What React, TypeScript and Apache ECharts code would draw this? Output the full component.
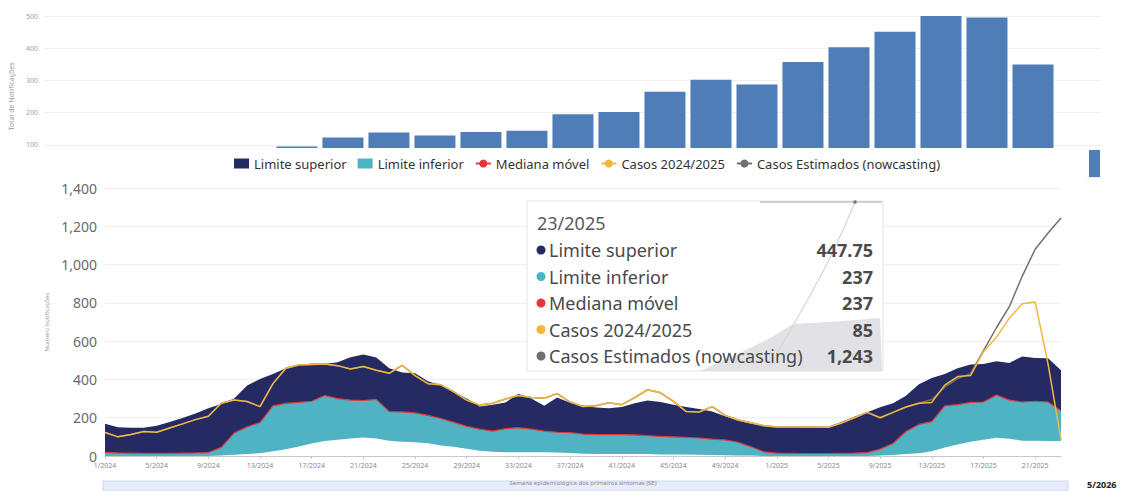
import React, { useEffect, useRef } from "react";
import * as echarts from "echarts";

// ---------- top bar chart (cropped) ----------
const barSlots = ["s1","s2","s3","s4","s5","s6","s7","s8","s9","s10","s11","s12","s13","s14","s15","s16","s17","s18","s19","s20","s21","s22","s23"];
const barValues: (number | null)[] = [null, null, null, null, null, 95, 123, 138, 129, 140, 144, 195, 202, 265, 302, 287, 357, 403, 451, 503, 495, 349, null];
const barTicks = [0, 100, 200, 300, 400, 500];

// ---------- main chart ----------
const weekLabels: string[] = [];
for (let w = 1; w <= 52; w++) weekLabels.push(`${w}/2024`);
for (let w = 1; w <= 23; w++) weekLabels.push(`${w}/2025`);

const limiteSuperior = [
  169, 150, 148, 148, 158, 178, 198, 222, 250, 272,
  300, 368, 402, 428, 458, 476, 482, 480, 490, 516,
  530, 515, 458, 436, 432, 390, 370, 335, 300, 258,
  268, 280, 325, 300, 262, 305, 278, 262, 254, 250,
  256, 275, 290, 282, 268, 256, 245, 232, 208, 185,
  168, 158, 150, 152, 148, 148, 152, 178, 205, 228,
  255, 275, 315, 375, 408, 428, 458, 478, 480, 495,
  486, 520, 512, 510, 447.75,
];
const limiteInferior = [
  18, 16, 15, 14, 14, 14, 15, 16, 18, 45,
  120, 152, 175, 262, 275, 280, 286, 316, 300, 292,
  290, 296, 232, 230, 225, 212, 196, 176, 155, 140,
  130, 143, 148, 140, 130, 124, 122, 114, 112, 112,
  112, 110, 106, 102, 100, 97, 94, 88, 84, 72,
  48, 22, 15, 14, 13, 13, 13, 14, 15, 18,
  36, 65, 128, 165, 180, 262, 268, 280, 282, 318,
  292, 282, 286, 282, 237,
];
const medianaMovel = [
  18, 16, 15, 14, 14, 14, 15, 16, 18, 45,
  120, 152, 175, 262, 275, 280, 286, 316, 300, 292,
  290, 296, 232, 230, 225, 212, 196, 176, 155, 140,
  130, 143, 148, 140, 130, 124, 122, 114, 112, 112,
  112, 110, 106, 102, 100, 97, 94, 88, 84, 72,
  48, 22, 15, 14, 13, 13, 13, 14, 15, 18,
  36, 65, 128, 165, 180, 262, 268, 280, 282, 318,
  292, 282, 286, 282, 237,
];
const baseArea = [
  0, 0, 0, 0, 0, 0, 0, 0, 0, 3,
  6, 10, 15, 25, 35, 50, 65, 78, 85, 92,
  97, 92, 80, 75, 72, 66, 55, 48, 38, 28,
  22, 20, 20, 20, 20, 18, 16, 12, 10, 10,
  10, 10, 10, 8, 8, 8, 6, 5, 4, 3,
  2, 0, 0, 0, 0, 0, 0, 0, 0, 0,
  2, 5, 10, 15, 25, 45, 60, 75, 85, 95,
  90, 80, 80, 78, 78,
];
const casos = [
  123, 100, 112, 128, 124, 146, 168, 190, 208, 276,
  292, 285, 258, 378, 458, 475, 478, 480, 472, 455,
  468, 448, 432, 474, 420, 378, 372, 335, 292, 266,
  276, 298, 316, 306, 302, 326, 282, 258, 262, 278,
  268, 305, 346, 330, 285, 232, 230, 258, 212, 188,
  174, 158, 152, 152, 152, 152, 150, 172, 200, 228,
  200, 228, 256, 276, 280, 370, 415, 420, 545, 620,
  720, 795, 805, 480, 85,
];
const nowcasting = [
  123, 100, 112, 128, 124, 146, 168, 190, 208, 276,
  292, 285, 258, 378, 458, 475, 478, 480, 472, 455,
  468, 448, 432, 474, 420, 378, 372, 335, 292, 266,
  276, 298, 316, 306, 302, 326, 282, 258, 262, 278,
  268, 305, 346, 330, 285, 232, 230, 258, 212, 188,
  174, 158, 152, 152, 152, 152, 150, 172, 200, 228,
  200, 228, 256, 276, 295, 360, 405, 430, 550, 670,
  780, 940, 1080, 1165, 1243,
];
const mainTicks = [0, 200, 400, 600, 800, 1000, 1200, 1400];

const NAVY = "#262a62";
const TEAL = "#4fb3c3";
const RED = "#e2383c";
const YELLOW = "#f1b73f";
const GRAY = "#707070";
const BAR = "#4f7db7";
const FONT = "'Noto Sans', 'DejaVu Sans', sans-serif";

export default function App() {
  const ref = useRef<HTMLDivElement>(null);
  useEffect(() => {
    const el = ref.current;
    if (!el) return;
    const chart = echarts.init(el, null, { renderer: "svg" });
    const last = weekLabels.length - 1;
    const fmt = (v: number) => v.toLocaleString("en-US", { maximumFractionDigits: 2 });
    const rows = [
      { name: "Limite superior", color: NAVY, value: limiteSuperior[last] },
      { name: "Limite inferior", color: TEAL, value: limiteInferior[last] },
      { name: "Mediana móvel", color: RED, value: medianaMovel[last] },
      { name: "Casos 2024/2025", color: YELLOW, value: casos[last] },
      { name: "Casos Estimados (nowcasting)", color: GRAY, value: nowcasting[last] },
    ];
    const tipX = 527, tipY = 201, tipW = 356, tipH = 170;
    const tipChildren: any[] = [
      { type: "rect", shape: { x: tipX, y: tipY, width: tipW, height: tipH }, style: { fill: "rgba(255,255,255,0.94)", stroke: "#e4e4e4", lineWidth: 1 }, z: 10 },
      { type: "polygon", shape: { points: [[700, 371], [740, 353], [770, 338], [793, 324], [830, 322], [880, 318], [882, 371]] }, style: { fill: "rgba(214,214,220,0.7)" }, z: 11 },
      { type: "line", shape: { x1: 760, y1: 202, x2: 882, y2: 202 }, style: { stroke: "#a8a8a8", lineWidth: 1 }, z: 11 },
      { type: "polyline", shape: { points: [[778, 352], [795, 322], [812, 292], [828, 262], [843, 230], [855, 202]] }, style: { stroke: "#d6d6d6", lineWidth: 1.2, fill: null }, z: 11 },
      { type: "circle", shape: { cx: 855, cy: 202, r: 1.8 }, style: { fill: "#777" }, z: 11 },
      { type: "text", x: tipX + 10, y: tipY + 22, style: { text: weekLabels[last], fontSize: 18, fontFamily: FONT, fill: "#5a5a5a", verticalAlign: "middle" }, z: 12 },
    ];
    rows.forEach((r, k) => {
      const cy = tipY + 49 + k * 26.5;
      tipChildren.push(
        { type: "circle", shape: { cx: tipX + 14, cy, r: 4.5 }, style: { fill: r.color }, z: 12 },
        { type: "text", x: tipX + 22, y: cy, style: { text: r.name, fontSize: 18, fontFamily: FONT, fill: "#4a4a4a", verticalAlign: "middle" }, z: 12 },
        { type: "text", x: tipX + tipW - 10, y: cy, style: { text: fmt(r.value), fontSize: 18, fontWeight: "bold", fontFamily: FONT, fill: "#4a4a4a", align: "right", verticalAlign: "middle" }, z: 12 },
      );
    });

    const areaSeries = (name: string, data: number[], color: string) => ({
      name, type: "line", xAxisIndex: 1, yAxisIndex: 1, data, color,
      symbol: "none", lineStyle: { width: 0, color }, areaStyle: { color, opacity: 1 },
      silent: true,
    });
    const lineSeries = (name: string, data: number[], color: string, width: number) => ({
      name, type: "line", xAxisIndex: 1, yAxisIndex: 1, data, color,
      symbol: "circle", symbolSize: 6, showSymbol: false, lineStyle: { width, color }, itemStyle: { color },
      silent: true,
    });

    chart.setOption({
      animation: false,
      backgroundColor: "#ffffff",
      textStyle: { fontFamily: FONT },
      grid: [
        { left: 42, top: 16, width: 1060, height: 161 },
        { left: 105, top: 188, width: 956, height: 274 },
      ],
      legend: {
        top: 152, left: 229, itemWidth: 15, itemHeight: 10, itemGap: 11,
        textStyle: { fontSize: 13, color: "#333", fontFamily: FONT },
        data: [
          { name: "Limite superior", icon: "rect" },
          { name: "Limite inferior", icon: "rect" },
          { name: "Mediana móvel" },
          { name: "Casos 2024/2025" },
          { name: "Casos Estimados (nowcasting)" },
        ],
        selectedMode: false,
      },
      xAxis: [
        { type: "category", gridIndex: 0, data: barSlots, axisLine: { show: false }, axisTick: { show: false }, axisLabel: { show: false } },
        {
          type: "category", gridIndex: 1, data: weekLabels, boundaryGap: false,
          axisLine: { lineStyle: { color: "#c8c8c8" } },
          axisTick: { show: true, interval: 3, length: 3, lineStyle: { color: "#c8c8c8" } },
          axisLabel: { interval: 3, fontSize: 7, color: "#8a8a8a", margin: 6 },
          name: "Semana epidemiológica dos primeiros sintomas (SE)", nameLocation: "middle", nameGap: 24,
          nameTextStyle: { fontSize: 6, color: "#8a8a8a" },
        },
      ],
      yAxis: [
        {
          type: "value", gridIndex: 0, min: barTicks[0], max: barTicks[barTicks.length - 1], interval: 100,
          axisLine: { show: false }, axisTick: { show: false },
          axisLabel: { fontSize: 7, color: "#a0a0a0", margin: 6 },
          splitLine: { lineStyle: { color: "#f0f0f0" } },
          name: "Total de Notificações", nameLocation: "middle", nameGap: 24,
          nameTextStyle: { fontSize: 7, color: "#999" },
        },
        {
          type: "value", gridIndex: 1, min: mainTicks[0], max: mainTicks[mainTicks.length - 1], interval: 200,
          axisLine: { show: false }, axisTick: { show: false },
          axisLabel: { fontSize: 14, color: "#6a6a6a", margin: 8, formatter: (v: number) => v.toLocaleString("en-US") },
          splitLine: { lineStyle: { color: "#efefef" } },
          name: "Número notificações", nameLocation: "middle", nameGap: 45,
          nameTextStyle: { fontSize: 6, color: "#9a9a9a" },
        },
      ],
      series: [
        { type: "bar", xAxisIndex: 0, yAxisIndex: 0, data: barValues, barWidth: 41, itemStyle: { color: BAR }, silent: true },
        areaSeries("Limite superior", limiteSuperior, NAVY),
        areaSeries("Limite inferior", limiteInferior, TEAL),
        areaSeries("base", baseArea, "#ffffff"),
        lineSeries("Mediana móvel", medianaMovel, RED, 1.2),
        lineSeries("Casos Estimados (nowcasting)", nowcasting, GRAY, 1.5),
        lineSeries("Casos 2024/2025", casos, YELLOW, 1.5),
      ],
      graphic: [
        { type: "rect", shape: { x: 30, y: 148, width: 1056, height: 34 }, style: { fill: "#ffffff" }, z: 3, silent: true },
        { type: "rect", shape: { x: 1089, y: 150, width: 11, height: 27 }, style: { fill: BAR }, z: 3, silent: true },
        { type: "rect", shape: { x: 103, y: 481, width: 965, height: 10 }, style: { fill: "#e6ecf8", stroke: "#cdd8ee", lineWidth: 1 }, z: -1, silent: true },
        { type: "text", x: 1087, y: 484, style: { text: "5/2026", fontSize: 9, fontWeight: "bold", fontFamily: FONT, fill: "#222", verticalAlign: "middle" }, z: 5 },
        { type: "group", children: tipChildren, z: 10 },
      ],
    });
    return () => chart.dispose();
  }, []);
  return <div ref={ref} style={{ position: "fixed", left: 0, top: 0, width: 1131, height: 491, background: "#fff" }} />;
}
